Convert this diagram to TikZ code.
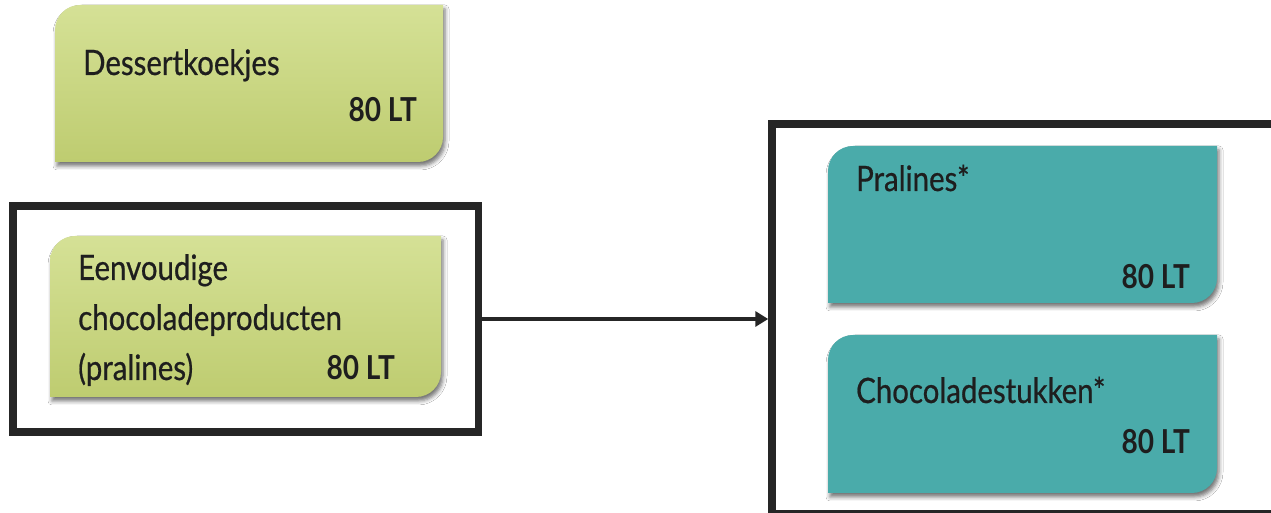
\documentclass[tikz,border=0pt]{standalone}
\usepackage{fontspec}
\setmainfont{Lato}[FakeStretch=0.85]
\newfontfamily\labfont{Lato}[FakeStretch=0.84, FakeBold=0.6]
\usetikzlibrary{arrows.meta,calc,shadows.blur}
\definecolor{gtop}{RGB}{213,225,150}
\definecolor{gbot}{RGB}{190,204,112}
\definecolor{teal}{RGB}{74,171,170}
\definecolor{ink}{RGB}{38,38,38}
\definecolor{txt}{RGB}{30,30,30}
\tikzset{
  x=1pt, y=1pt,
  holder/.style={rectangle, draw=none, fill=none, inner sep=0pt, outer sep=0pt},
  frame/.style={rectangle, draw=ink, line width=7.5pt, inner sep=0pt},
  conn/.style={draw=ink, line width=4.5pt, -{Triangle[length=13pt,width=15pt]}},
  boxshadow/.style={blur shadow={shadow xshift=2pt, shadow yshift=-4pt, shadow blur radius=4pt, shadow opacity=55}},
  greenfill/.style={boxshadow, top color=gtop, bottom color=gbot},
  tealfill/.style={boxshadow, fill=teal},
  label/.style={inner sep=0pt, text=txt, font=\labfont\fontsize{35}{40}\selectfont},
  amount/.style={inner sep=0pt, text=txt, font=\fontsize{33}{38}\selectfont\bfseries},
}
\newcommand{\cutbox}[2]{%
  \path[#2] (#1.south west) -- ($(#1.north west)+(0,-25)$) arc[start angle=180, end angle=90, radius=25]
    -- (#1.north east) -- ($(#1.south east)+(0,25)$) arc[start angle=0, end angle=-90, radius=25] -- cycle;}
\begin{document}
\begin{tikzpicture}
\fill[white] (0,0) rectangle (1271,513);
\useasboundingbox (0,0) rectangle (1271,513);

% box holders
\node[holder, minimum width=388, minimum height=157] (dk) at (249,429.5) {};
\node[holder, minimum width=391, minimum height=161] (ev) at (245.5,196.5) {};
\node[holder, minimum width=389, minimum height=157] (pr) at (1022.5,288.5) {};
\node[holder, minimum width=389, minimum height=158] (cs) at (1022.5,99) {};

% frames
\node[frame, minimum width=465.5, minimum height=226] (lf) at (245.75,194) {};
\node[frame, minimum width=528, minimum height=390] (rf) at (1036,194) {};

% boxes
\cutbox{dk}{greenfill}
\cutbox{ev}{greenfill}
\cutbox{pr}{tealfill}
\cutbox{cs}{tealfill}

% connector
\draw[conn] (lf.east) -- (lf.east -| rf.west);

% texts
\node[label, anchor=base west] (dkt) at (83,438) {Dessertkoekjes};
\node[amount, anchor=base east] (dka) at (417,391) {80 LT};

\node[label, anchor=base west] (ev1) at (78,233) {Eenvoudige};
\node[label, anchor=base west] (ev2) at (78,183) {chocoladeproducten};
\node[label, anchor=base west] (ev3) at (78,133) {(pralines)};
\node[amount, anchor=base east] (eva) at (395,133) {80 LT};

\node[label, anchor=base west] (prt) at (856,322) {Pralines*};
\node[amount, anchor=base east] (pra) at (1190,224) {80 LT};

\node[label, anchor=base west] (cst) at (856,110) {Chocoladestukken*};
\node[amount, anchor=base east] (csa) at (1190,59) {80 LT};
\end{tikzpicture}
\end{document}
